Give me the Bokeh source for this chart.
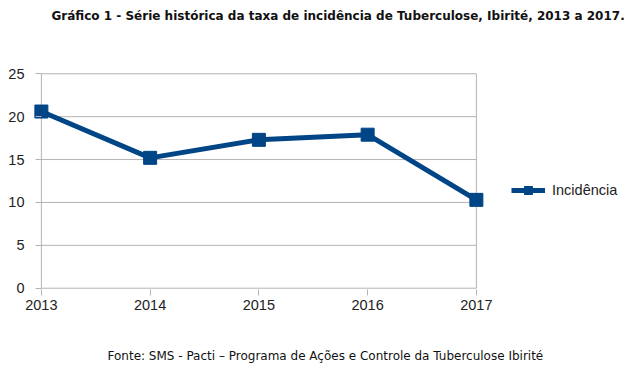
from bokeh.plotting import figure
from bokeh.models import Title, Legend, LegendItem, Range1d, FixedTicker
from bokeh.embed import file_html
from bokeh.resources import INLINE

years = [2013, 2014, 2015, 2016, 2017]
incidencia = [20.6, 15.2, 17.3, 17.9, 10.3]
y_ticks = [0, 5, 10, 15, 20, 25]
serie = "Incidência"
titulo = "Gráfico 1 - Série histórica da taxa de incidência de Tuberculose, Ibirité, 2013 a 2017."
fonte = "Fonte: SMS - Pacti – Programa de Ações e Controle da Tuberculose Ibirité"

blue = "#004586"
gray = "#b3b3b3"

W, H = 624, 363
left_px = 30
px_per_year = (476 - 41) / (years[-1] - years[0])
x_pad = 0.1
y_pad = 0.15
x_start = years[0] - x_pad
x_end = x_start + (W - left_px) / px_per_year
pad_px = x_pad * px_per_year

p = figure(width=W, height=H, output_backend="svg", toolbar_location=None,
           x_range=Range1d(x_start, x_end),
           y_range=Range1d(y_ticks[0] - y_pad, y_ticks[-1] + y_pad),
           min_border_left=left_px, min_border_right=0, min_border_top=72, min_border_bottom=74)
p.outline_line_color = None
p.background_fill_color = "white"

# grid lines and frame lines spanning only the data extent
n = len(y_ticks)
p.segment(x0=[years[0]] * n, x1=[years[-1]] * n, y0=y_ticks, y1=y_ticks,
          line_color=gray, line_width=1)
p.segment(x0=[years[0], years[-1]], x1=[years[0], years[-1]],
          y0=[y_ticks[0]] * 2, y1=[y_ticks[-1]] * 2, line_color=gray, line_width=1)

ln = p.line(years, incidencia, line_color=blue, line_width=5)
sq = p.scatter(years, incidencia, marker="square", size=13, fill_color=blue, line_color=blue)

p.xaxis.ticker = FixedTicker(ticks=years)
p.yaxis.ticker = FixedTicker(ticks=y_ticks)
for ax in (p.xaxis, p.yaxis):
    ax.axis_line_color = None
    ax.major_tick_line_color = gray
    ax.minor_tick_line_color = None
    ax.major_label_text_font = "Liberation Sans"
    ax.major_label_text_font_size = "14.5px"
    ax.major_label_text_color = "#222222"
p.xaxis.major_tick_out = 6
p.xaxis.major_tick_in = 0
p.xaxis.major_label_standoff = 4
# y ticks: short marks just left of the data edge (which sits pad_px inside the frame)
p.yaxis.major_tick_in = round(pad_px)
p.yaxis.major_tick_out = round(6 - pad_px)
p.yaxis.major_label_standoff = round(pad_px - 6) + 1
p.xgrid.grid_line_color = None
p.ygrid.grid_line_color = None

legend = Legend(items=[LegendItem(label=serie, renderers=[ln, sq])],
                location=(481, 89), padding=0, margin=0, border_line_color=None,
                background_fill_alpha=0, glyph_width=34, label_standoff=7,
                label_text_font="Liberation Sans", label_text_font_size="14.5px",
                label_text_color="#222222")
p.add_layout(legend, "center")

# spacer nearest the frame, then the title above it
p.add_layout(Title(text=" ", text_font_size="1px", standoff=47), "above")
p.add_layout(Title(text=titulo, align="left", offset=21, text_font="DejaVu Sans",
                   text_font_size="12px", text_font_style="bold", text_color="#111111",
                   standoff=0), "above")
# spacer below the x axis, then the source note
p.add_layout(Title(text=" ", text_font_size="1px", standoff=31), "below")
p.add_layout(Title(text=fonte, align="left", offset=77, text_font="DejaVu Sans",
                   text_font_size="12px", text_font_style="normal", text_color="#111111",
                   standoff=0), "below")

open("out.html", "w").write(file_html(p, INLINE))
